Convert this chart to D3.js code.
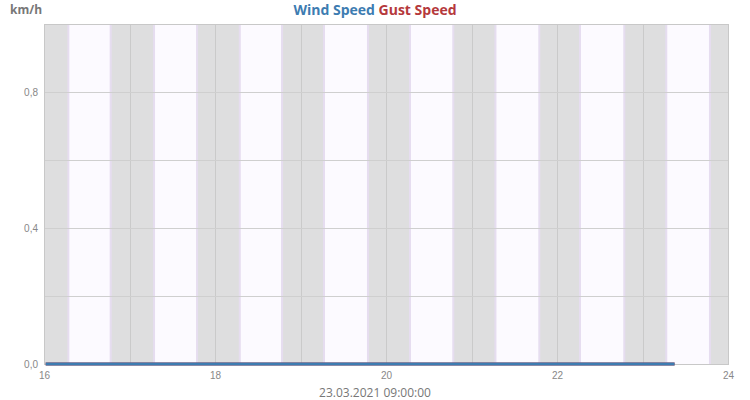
<!DOCTYPE html>
<html>
<head>
<meta charset="utf-8">
<script src="https://cdn.jsdelivr.net/npm/d3@7"></script>
<style>
  body { margin: 0; background: #fff; }
  svg { font-family: "Open Sans", "Noto Sans", sans-serif; }
</style>
</head>
<body>
<div id="chart"></div>
<script>
// days of March 2021 shown on the x axis
const days = [16, 17, 18, 19, 20, 21, 22, 23]
// fraction of the day for sunrise / sunset
const sunrise = [0.285, 0.287, 0.290, 0.275, 0.281, 0.280, 0.269, 0.278]
const sunset = [0.780, 0.790, 0.784, 0.789, 0.787, 0.793, 0.787, 0.789]

const xTicks = [16, 18, 20, 22, 24]
const yTicks = [0, 0.4, 0.8]
const yGrid = [0.2, 0.4, 0.6, 0.8]

// measurements (day of month as decimal), all calm
const windTime = [16.02, 17, 18, 19, 20, 21, 22, 23, 23.375]
const windSpeed = [0, 0, 0, 0, 0, 0, 0, 0, 0]
const gustSpeed = [0, 0, 0, 0, 0, 0, 0, 0, 0]

const w = 750, h = 400
const margin = { top: 24, right: 22, bottom: 36, left: 44 }

const svg = d3.select('#chart').append('svg')
    .attr('width', w)
    .attr('height', h)

const x = d3.scaleLinear().domain([16, 24]).range([margin.left, w - margin.right])
const y = d3.scaleLinear().domain([0, 1]).range([h - margin.bottom, margin.top])

const plotTop = y(1), plotBottom = y(0)

// night background for whole plot, day bands on top
svg.append('rect')
    .attr('x', x(16)).attr('y', plotTop)
    .attr('width', x(24) - x(16)).attr('height', plotBottom - plotTop)
    .attr('fill', '#dededf')

const dayBands = days.map((d, i) => ({ from: d + sunrise[i], to: d + sunset[i] }))

svg.selectAll('.day')
    .data(dayBands)
    .enter()
    .append('rect')
    .attr('class', 'day')
    .attr('x', d => x(d.from))
    .attr('y', plotTop)
    .attr('width', d => x(d.to) - x(d.from))
    .attr('height', plotBottom - plotTop)
    .attr('fill', '#fcfaff')

// faint lavender edges of the day bands
svg.selectAll('.edge')
    .data(dayBands.flatMap(d => [d.from, d.to]))
    .enter()
    .append('line')
    .attr('class', 'edge')
    .attr('x1', d => x(d)).attr('x2', d => x(d))
    .attr('y1', plotTop).attr('y2', plotBottom)
    .attr('stroke', '#e6ddf0')
    .attr('stroke-width', 2)

// grid
svg.selectAll('.vgrid')
    .data(d3.range(17, 24))
    .enter()
    .append('line')
    .attr('x1', d => Math.round(x(d)) + 0.5).attr('x2', d => Math.round(x(d)) + 0.5)
    .attr('y1', plotTop).attr('y2', plotBottom)
    .attr('stroke', '#cacaca')
    .attr('stroke-width', 1)

svg.selectAll('.hgrid')
    .data(yGrid)
    .enter()
    .append('line')
    .attr('x1', x(16)).attr('x2', x(24))
    .attr('y1', d => Math.round(y(d)) + 0.5).attr('y2', d => Math.round(y(d)) + 0.5)
    .attr('stroke', '#cfcfcf')
    .attr('stroke-width', 1)

// frame
svg.append('rect')
    .attr('x', x(16) + 0.5).attr('y', plotTop + 0.5)
    .attr('width', x(24) - x(16)).attr('height', plotBottom - plotTop)
    .attr('fill', 'none')
    .attr('stroke', '#c8c8c8')

// axes
const xAxis = svg.append('g')
    .attr('transform', `translate(0,${plotBottom})`)
    .call(d3.axisBottom(x).tickValues(xTicks).tickSize(0).tickPadding(8).tickFormat(d3.format('d')))
xAxis.select('.domain').remove()
xAxis.selectAll('text').attr('fill', '#888').style('font-size', '10px')

const yAxis = svg.append('g')
    .attr('transform', `translate(${margin.left},0)`)
    .call(d3.axisLeft(y).tickValues(yTicks).tickSize(0).tickPadding(6)
        .tickFormat(d => d3.format('.1f')(d).replace('.', ',')))
yAxis.select('.domain').remove()
yAxis.selectAll('text').attr('fill', '#888').style('font-size', '10px')

// series
const line = (vals) => d3.line()
    .x((d, i) => x(windTime[i]))
    .y(d => y(d))(vals)

svg.append('path')
    .attr('d', line(gustSpeed))
    .attr('fill', 'none')
    .attr('stroke', '#b5393c')
    .attr('stroke-width', 3)

svg.append('path')
    .attr('d', line(windSpeed))
    .attr('fill', 'none')
    .attr('stroke', '#3d7cb1')
    .attr('stroke-width', 3)

// titles
svg.append('text')
    .attr('x', 10).attr('y', 14)
    .attr('fill', '#777')
    .style('font-size', '12px').style('font-weight', 'bold')
    .text('km/h')

const title = svg.append('text')
    .attr('x', w / 2).attr('y', 15)
    .attr('text-anchor', 'middle')
    .style('font-size', '14px').style('font-weight', 'bold')
title.append('tspan').attr('fill', '#3d7cb1').text('Wind Speed ')
title.append('tspan').attr('fill', '#b5393c').text('Gust Speed')

svg.append('text')
    .attr('x', w / 2).attr('y', 397)
    .attr('text-anchor', 'middle')
    .attr('fill', '#777')
    .style('font-size', '12px')
    .text('23.03.2021 09:00:00')
</script>
</body>
</html>
